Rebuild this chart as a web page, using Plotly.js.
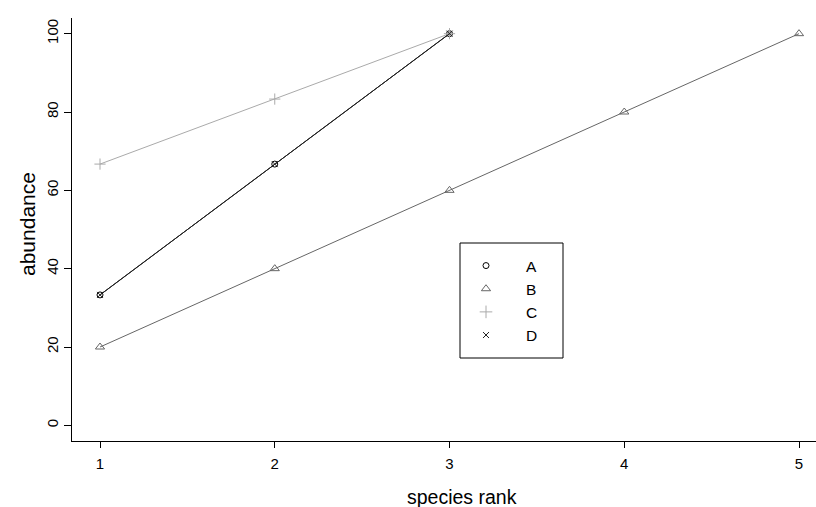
<!DOCTYPE html>
<html>
<head>
<meta charset="utf-8">
<script src="https://cdn.plot.ly/plotly-3.0.1.min.js"></script>
<style>html,body{margin:0;padding:0;background:#fff;}#chart{width:816px;height:507px;}</style>
</head>
<body>
<div id="chart"></div>
<script>
// Data
var rankA = [1, 2, 3];
var abundA = [33.3, 66.7, 100];
var rankB = [1, 2, 3, 4, 5];
var abundB = [20, 40, 60, 80, 100];
var rankC = [1, 2, 3];
var abundC = [66.7, 83.3, 100];
var rankD = [1, 2, 3];
var abundD = [33.3, 66.7, 100];
var seriesNames = ["A", "B", "C", "D"];
var xTickVals = [1, 2, 3, 4, 5];
var yTickVals = [0, 20, 40, 60, 80, 100];

var FONT = "Liberation Sans, Arial, Helvetica, sans-serif";

function lineTrace(x, y, color, symbol, size, name) {
  return {
    x: x, y: y, type: "scatter", mode: "lines+markers",
    name: name, showlegend: false,
    line: {color: color, width: 1},
    marker: {symbol: symbol, size: size, color: color, line: {color: color, width: 1}}
  };
}
function legendTrace(color, symbol, size, name) {
  return {
    x: [null], y: [null], type: "scatter", mode: "markers",
    name: name, legendgroup: name, showlegend: true,
    marker: {symbol: symbol, size: size, color: color, line: {color: color, width: 1}}
  };
}

var colA = "#000000", colB = "#666666", colC = "#aaaaaa", colD = "#222222";

var data = [
  lineTrace(rankA, abundA, colA, "circle-open", 6, seriesNames[0]),
  lineTrace(rankB, abundB, colB, "triangle-up-open", 8, seriesNames[1]),
  lineTrace(rankC, abundC, colC, "cross-thin-open", 8, seriesNames[2]),
  lineTrace(rankD, abundD, colD, "x-thin-open", 6, seriesNames[3]),
  legendTrace(colA, "circle-open", 6, seriesNames[0]),
  legendTrace(colB, "triangle-up-open", 8, seriesNames[1]),
  legendTrace(colC, "cross-thin-open", 9, seriesNames[2]),
  legendTrace(colD, "x-thin-open", 6, seriesNames[3])
];

var layout = {
  width: 816, height: 507,
  margin: {l: 72, r: 0, t: 18, b: 66, pad: 0},
  paper_bgcolor: "#ffffff", plot_bgcolor: "#ffffff",
  font: {family: FONT, color: "#000000", size: 14},
  showlegend: true,
  legend: {
    x: (446 - 72) / 744, xanchor: "left",
    y: (441 - 249) / 423, yanchor: "top",
    bgcolor: "rgba(0,0,0,0)", borderwidth: 0,
    font: {family: FONT, size: 15.5, color: "#000000"},
    traceorder: "grouped", tracegroupgap: 0,
    itemwidth: 70
  },
  xaxis: {
    range: [0.8398, 5.0973],
    tickvals: xTickVals, ticktext: xTickVals.map(String),
    showgrid: false, zeroline: false,
    showline: true, linecolor: "#000000", linewidth: 1,
    ticks: "outside", ticklen: 6, tickcolor: "#000000", tickwidth: 1,
    tickfont: {family: FONT, size: 15, color: "#000000"},
    ticklabelstandoff: 3
  },
  yaxis: {
    range: [-4, 104],
    tickvals: yTickVals, ticktext: yTickVals.map(String),
    tickangle: -90,
    showgrid: false, zeroline: false,
    showline: true, linecolor: "#000000", linewidth: 1,
    ticks: "outside", ticklen: 7, tickcolor: "#000000", tickwidth: 1,
    tickfont: {family: FONT, size: 15, color: "#000000"},
    ticklabelstandoff: 0
  },
  shapes: [{
    type: "rect", xref: "paper", yref: "paper",
    x0: (460 - 72) / 744, x1: (563 - 72) / 744,
    y0: (441 - 358) / 423, y1: (441 - 243) / 423,
    line: {color: "#000000", width: 1}, fillcolor: "rgba(0,0,0,0)", layer: "above"
  }],
  annotations: [
    {text: "species rank", xref: "paper", yref: "paper", x: (462 - 72) / 744, y: 0,
     xanchor: "center", yanchor: "middle", yshift: -56, showarrow: false,
     font: {family: FONT, size: 19.5, color: "#000000"}},
    {text: "abundance", xref: "paper", yref: "paper", x: 0, y: (441 - 224) / 423,
     xanchor: "center", yanchor: "middle", xshift: -45, textangle: -90, showarrow: false,
     font: {family: FONT, size: 21, color: "#000000"}}
  ]
};

Plotly.newPlot("chart", data, layout, {displayModeBar: false, staticPlot: true});
</script>
</body>
</html>
